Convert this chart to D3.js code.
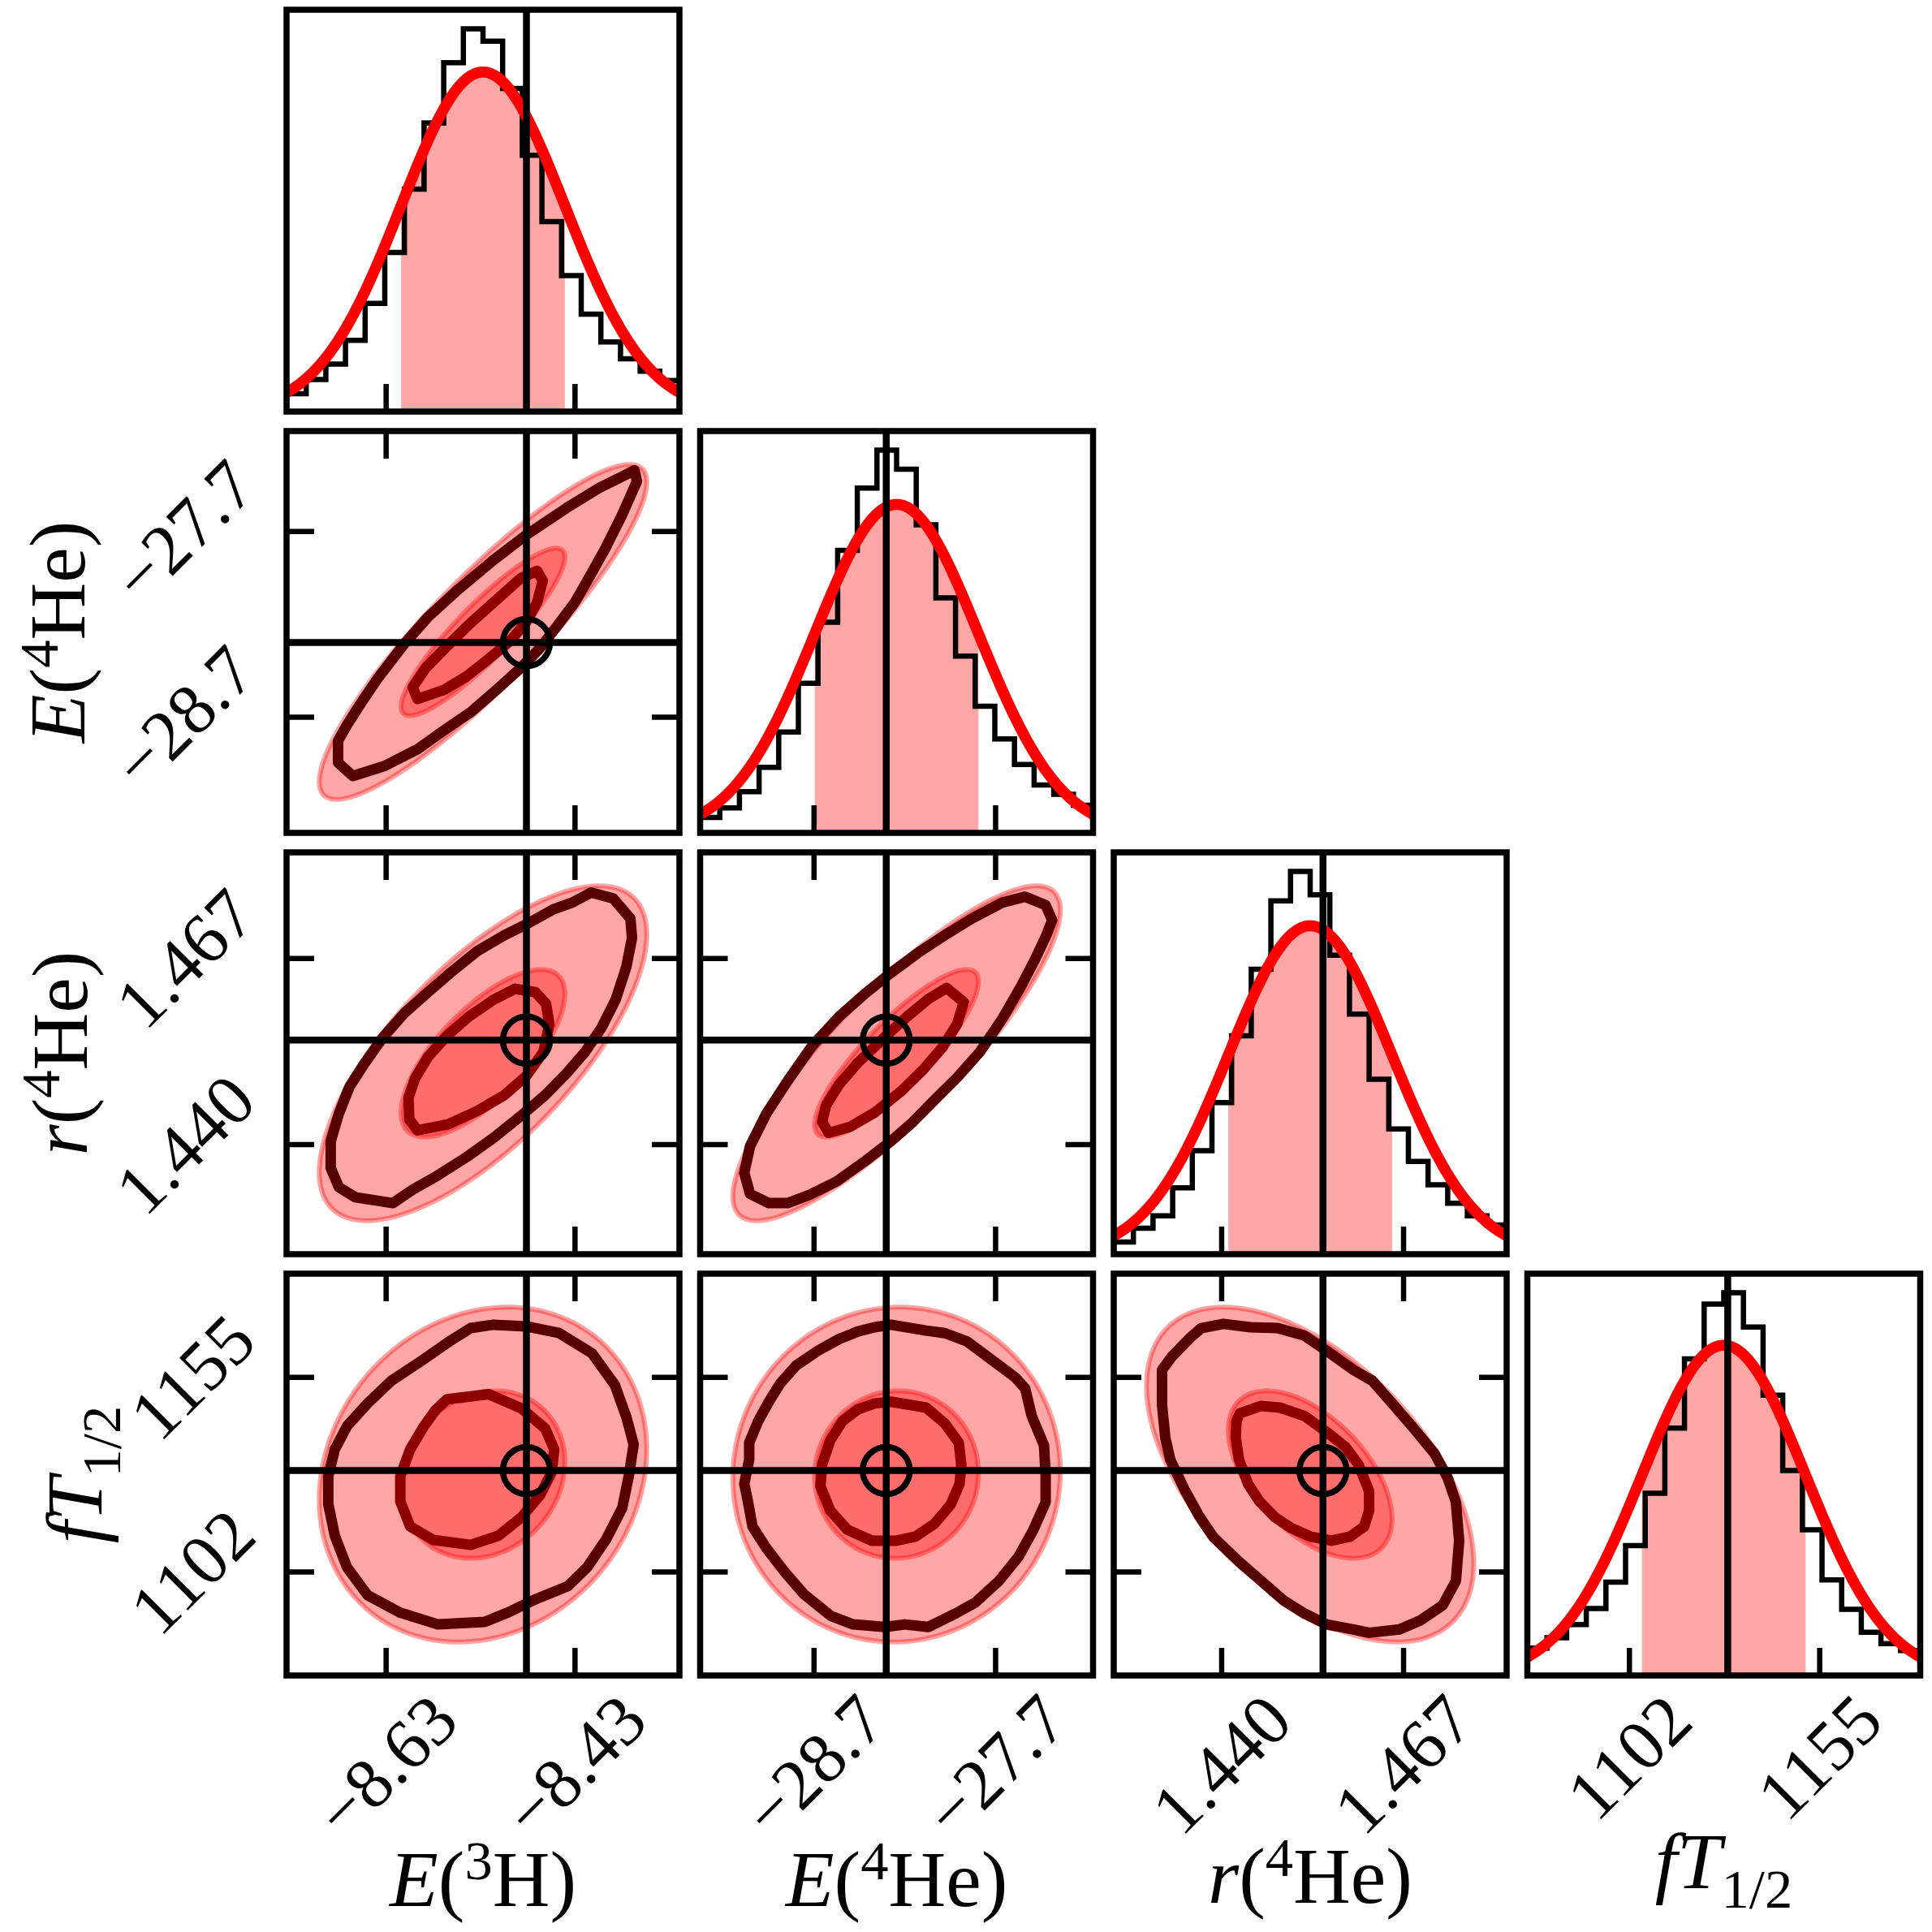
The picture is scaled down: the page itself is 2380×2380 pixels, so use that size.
<!DOCTYPE html>
<html>
<head>
<meta charset="utf-8">
<script src="https://cdn.jsdelivr.net/npm/d3@7/dist/d3.min.js"></script>
<style>
  body { margin: 0; background: #fff; }
  svg { display: block; }
  text { font-family: "Liberation Serif", "DejaVu Serif", serif; fill: #000; }
</style>
</head>
<body>
<script>

// parameters, in corner order: E(3H), E(4He), r(4He), fT1/2
var axisLimits = [[-8.735, -8.319], [-29.325, -27.161], [1.42404, 1.48236], [1073.68, 1183.12]];
var truths = [-8.481, -28.30, 1.4551, 1129.5];
var means = [-8.527, -28.243, 1.4532, 1128.4];
var sigmas = [0.0867, 0.451, 0.01215, 22.8];
var tickValues = [[-8.63, -8.43], [-28.7, -27.7], [1.440, 1.467], [1102, 1155]];
var tickLabels = [["\u22128.63", "\u22128.43"], ["\u221228.7", "\u221227.7"], ["1.440", "1.467"], ["1102", "1155"]];

// histogram heights, 20 bins over each axis range (relative counts)
var histE3H  = [58, 104, 154, 231, 351, 516, 721, 936, 1131, 1241, 1201, 1048, 831, 616, 441, 316, 226, 171, 131, 101];
var histE4He = [57, 92, 152, 242, 372, 552, 777, 1042, 1272, 1412, 1342, 1137, 867, 652, 467, 347, 252, 177, 142, 102];
var histR4He = [39, 84, 124, 214, 334, 489, 704, 919, 1139, 1234, 1159, 964, 774, 564, 404, 299, 224, 164, 124, 94];
var histFT   = [60, 83, 112, 147, 205, 285, 400, 543, 695, 815, 840, 765, 615, 450, 320, 210, 145, 95, 70, 55];
// height of the gaussian fit at its mean, same units as the histograms
var fitPeak = [1101, 1212, 1059, 725];

// 2D panels [row, col] and gaussian correlation
var pairs = [[1, 0], [2, 0], [2, 1], [3, 0], [3, 1], [3, 2]];
var correlations = [0.895, 0.71, 0.855, 0.15, 0.02, -0.53];

// sample contours, vertices as standard scores (value - mean) / sigma
var c10Outer = [[1.85,1.93],[1.42,1.72],[1.02,1.48],[0.53,1.16],[0.13,0.86],[-0.30,0.51],[-0.67,0.18],[-0.96,-0.14],[-1.29,-0.56],[-1.49,-0.85],[-1.66,-1.11],[-1.77,-1.30],[-1.77,-1.56],[-1.59,-1.72],[-1.20,-1.60],[-0.80,-1.40],[-0.47,-1.17],[-0.14,-0.95],[0.20,-0.66],[0.46,-0.43],[0.69,-0.20],[0.92,0.09],[1.12,0.35],[1.29,0.64],[1.49,0.99],[1.69,1.38],[1.88,1.80]];
var c10Inner = [[0.66,0.73],[0.73,0.61],[0.66,0.35],[0.53,0.12],[0.33,-0.11],[0.06,-0.33],[-0.20,-0.53],[-0.47,-0.69],[-0.80,-0.80],[-0.86,-0.66],[-0.70,-0.43],[-0.47,-0.20],[-0.17,0.09],[0.16,0.38],[0.46,0.64]];
var c20Outer = [[1.32,1.92],[1.59,1.85],[1.80,1.61],[1.82,1.38],[1.75,1.03],[1.62,0.64],[1.45,0.31],[1.25,0.02],[1.02,-0.24],[0.76,-0.50],[0.46,-0.75],[0.13,-1.01],[-0.20,-1.24],[-0.57,-1.47],[-0.86,-1.63],[-1.10,-1.79],[-1.56,-1.72],[-1.76,-1.60],[-1.86,-1.37],[-1.86,-1.05],[-1.76,-0.72],[-1.63,-0.40],[-1.46,-0.14],[-1.23,0.18],[-0.96,0.48],[-0.67,0.73],[-0.40,0.96],[-0.07,1.22],[0.26,1.41],[0.53,1.54],[0.86,1.72],[1.09,1.80]];
var c20Inner = [[0.39,0.77],[0.64,0.73],[0.77,0.59],[0.81,0.35],[0.74,0.02],[0.53,-0.27],[0.26,-0.50],[-0.07,-0.69],[-0.43,-0.85],[-0.80,-0.92],[-0.90,-0.79],[-0.91,-0.53],[-0.83,-0.30],[-0.67,-0.04],[-0.43,0.22],[-0.17,0.44],[0.13,0.64]];
var c21Outer = [[1.57,1.87],[1.29,1.80],[0.92,1.61],[0.59,1.41],[0.29,1.22],[-0.07,0.96],[-0.40,0.70],[-0.70,0.44],[-1.03,0.09],[-1.33,-0.33],[-1.59,-0.72],[-1.79,-1.11],[-1.86,-1.43],[-1.79,-1.68],[-1.56,-1.79],[-1.33,-1.79],[-1.06,-1.69],[-0.73,-1.53],[-0.40,-1.30],[-0.07,-1.05],[0.20,-0.82],[0.46,-0.56],[0.73,-0.30],[1.02,0.02],[1.29,0.41],[1.52,0.80],[1.69,1.12],[1.83,1.41],[1.90,1.59],[1.82,1.77]];
var c21Inner = [[0.61,0.78],[0.82,0.61],[0.74,0.35],[0.56,0.07],[0.33,-0.19],[0.06,-0.45],[-0.27,-0.71],[-0.57,-0.88],[-0.83,-0.95],[-0.91,-0.82],[-0.86,-0.62],[-0.70,-0.37],[-0.47,-0.11],[-0.17,0.17],[0.13,0.44],[0.39,0.65]];
var c30Outer = [[0.13,1.79],[0.53,1.77],[0.93,1.69],[1.33,1.45],[1.61,1.07],[1.75,0.69],[1.84,0.36],[1.78,-0.02],[1.70,-0.40],[1.50,-0.78],[1.27,-1.11],[1.04,-1.33],[0.64,-1.49],[0.30,-1.65],[0.02,-1.76],[-0.55,-1.79],[-1.01,-1.65],[-1.41,-1.44],[-1.66,-1.11],[-1.81,-0.73],[-1.89,-0.35],[-1.89,-0.02],[-1.81,0.30],[-1.66,0.58],[-1.41,0.85],[-1.12,1.12],[-0.78,1.34],[-0.38,1.61],[-0.15,1.75]];
var c30Inner = [[-0.44,0.90],[0.07,0.96],[0.47,0.79],[0.76,0.55],[0.87,0.30],[0.84,0.03],[0.70,-0.24],[0.47,-0.51],[0.19,-0.73],[-0.15,-0.84],[-0.61,-0.78],[-0.89,-0.62],[-1.01,-0.32],[-1.01,-0.02],[-0.89,0.30],[-0.72,0.58],[-0.58,0.77]];
var c31Outer = [[-0.07,1.79],[0.36,1.72],[0.59,1.69],[0.86,1.59],[1.15,1.38],[1.45,1.16],[1.57,1.03],[1.65,0.70],[1.80,0.35],[1.82,0.00],[1.82,-0.33],[1.67,-0.66],[1.49,-0.98],[1.25,-1.27],[0.96,-1.53],[0.72,-1.66],[0.39,-1.82],[0.10,-1.79],[-0.14,-1.82],[-0.53,-1.79],[-0.80,-1.69],[-1.13,-1.43],[-1.36,-1.17],[-1.59,-0.88],[-1.76,-0.62],[-1.82,-0.30],[-1.86,-0.11],[-1.80,0.18],[-1.80,0.38],[-1.69,0.64],[-1.56,0.87],[-1.42,1.09],[-1.23,1.30],[-0.96,1.48],[-0.70,1.62],[-0.47,1.71],[-0.27,1.76]];
var c31Inner = [[-0.07,0.87],[0.36,0.80],[0.59,0.61],[0.76,0.38],[0.79,0.12],[0.77,-0.11],[0.66,-0.36],[0.46,-0.59],[0.23,-0.74],[0.00,-0.79],[-0.30,-0.79],[-0.60,-0.66],[-0.81,-0.43],[-0.93,-0.14],[-0.91,0.12],[-0.81,0.41],[-0.66,0.64],[-0.47,0.78],[-0.27,0.85]];
var c32Outer = [[-1.33,1.75],[-1.06,1.80],[-0.73,1.76],[-0.40,1.75],[-0.07,1.66],[0.20,1.48],[0.53,1.25],[0.76,1.12],[1.02,0.83],[1.25,0.57],[1.52,0.25],[1.68,-0.04],[1.78,-0.33],[1.82,-0.79],[1.78,-1.27],[1.62,-1.56],[1.35,-1.74],[1.09,-1.85],[0.72,-1.89],[0.53,-1.85],[0.20,-1.79],[-0.07,-1.66],[-0.33,-1.50],[-0.60,-1.27],[-0.86,-1.05],[-1.18,-0.75],[-1.36,-0.49],[-1.54,-0.17],[-1.71,0.18],[-1.77,0.44],[-1.81,0.83],[-1.81,1.25],[-1.69,1.41],[-1.46,1.64]];
var c32Inner = [[-0.86,0.73],[-0.60,0.82],[-0.37,0.80],[-0.07,0.70],[0.20,0.51],[0.43,0.33],[0.59,0.12],[0.72,-0.20],[0.72,-0.43],[0.66,-0.62],[0.49,-0.74],[0.26,-0.79],[0.00,-0.74],[-0.23,-0.64],[-0.43,-0.51],[-0.62,-0.32],[-0.76,-0.11],[-0.87,0.18],[-0.91,0.44],[-0.90,0.64]];

var outerContours = [c10Outer, c20Outer, c21Outer, c30Outer, c31Outer, c32Outer];
var innerContours = [c10Inner, c20Inner, c21Inner, c30Inner, c31Inner, c32Inner];

var axisLabels = [
    [["E", "i"], ["(", ""], ["3", "sup"], ["H)", ""]],
    [["E", "i"], ["(", ""], ["4", "sup"], ["He)", ""]],
    [["r", "i"], ["(", ""], ["4", "sup"], ["He)", ""]],
    [["fT", "i"], ["1/2", "sub"]]
];

var W = 2380, H = 2380;
var left0 = 353, stepX = 509.5, panelW = 484;
var top0 = 12, stepY = 519, panelH = 495;
var tickFs = 88, labelFs = 98;
var frameW = 7.5, tickLen = 34, tickW = 6.5;
var shade = "rgba(255,0,0,0.35)";

var histograms = [histE3H, histE4He, histR4He, histFT];

var svg = d3.select("body").append("svg").attr("width", W).attr("height", H);
svg.append("rect").attr("width", W).attr("height", H).attr("fill", "#fff");
var defs = svg.append("defs");

function colLeft(c) { return left0 + c * stepX; }
function rowTop(r) { return top0 + r * stepY; }

function xScale(c) {
    return d3.scaleLinear().domain(axisLimits[c]).range([colLeft(c), colLeft(c) + panelW]);
}
function yScale(r) {
    return d3.scaleLinear().domain(axisLimits[r]).range([rowTop(r) + panelH, rowTop(r)]);
}

function gauss(c, v) {
    var z = (v - means[c]) / sigmas[c];
    return fitPeak[c] * Math.exp(-0.5 * z * z);
}

function panelGroup(r, c) {
    var id = "clip" + r + c;
    defs.append("clipPath").attr("id", id).append("rect")
        .attr("x", colLeft(c)).attr("y", rowTop(r)).attr("width", panelW).attr("height", panelH);
    return svg.append("g").attr("clip-path", "url(#" + id + ")");
}

function frame(r, c, x, y, allSides) {
    var g = svg.append("g");
    var bottom = rowTop(r) + panelH, top = rowTop(r);
    var right = colLeft(c) + panelW, left = colLeft(c);

    var axes = [g.append("g").attr("transform", "translate(0," + bottom + ")")
                  .call(d3.axisBottom(x).tickValues(tickValues[c]).tickSize(-tickLen).tickFormat(""))];
    if (allSides) {
        axes.push(g.append("g").attr("transform", "translate(0," + top + ")")
            .call(d3.axisTop(x).tickValues(tickValues[c]).tickSize(-tickLen).tickFormat("")));
        axes.push(g.append("g").attr("transform", "translate(" + left + ",0)")
            .call(d3.axisLeft(y).tickValues(tickValues[r]).tickSize(-tickLen).tickFormat("")));
        axes.push(g.append("g").attr("transform", "translate(" + right + ",0)")
            .call(d3.axisRight(y).tickValues(tickValues[r]).tickSize(-tickLen).tickFormat("")));
    }
    axes.forEach(function (a) {
        a.select(".domain").remove();
        a.selectAll("line").attr("stroke", "#000").attr("stroke-width", tickW);
    });

    g.append("rect").attr("x", left).attr("y", top).attr("width", panelW).attr("height", panelH)
        .attr("fill", "none").attr("stroke", "#000").attr("stroke-width", frameW);
}

// diagonal: histogram + gaussian fit
for (var c = 0; c < 4; c++) {
    var x = xScale(c);
    var hist = histograms[c];
    var y = d3.scaleLinear().domain([0, 1.05 * d3.max(hist)]).range([rowTop(c) + panelH, rowTop(c)]);
    var g = panelGroup(c, c);
    var lo = axisLimits[c][0], hi = axisLimits[c][1];

    var band = d3.range(0, 201).map(function (i) { return means[c] - sigmas[c] + i * 2 * sigmas[c] / 200; });
    g.append("path").datum(band)
        .attr("d", d3.area().x(function (d) { return x(d); }).y0(y(0)).y1(function (d) { return y(gauss(c, d)); }))
        .attr("fill", shade);

    var edges = d3.range(21).map(function (i) { return lo + i * (hi - lo) / 20; });
    var steps = [[edges[0], 0]];
    hist.forEach(function (h, i) { steps.push([edges[i], h]); });
    steps.push([edges[20], hist[19]]);
    steps.push([edges[20], 0]);
    g.append("path").datum(steps)
        .attr("d", d3.line().x(function (d) { return x(d[0]); }).y(function (d) { return y(d[1]); }).curve(d3.curveStepAfter))
        .attr("fill", "none").attr("stroke", "#000").attr("stroke-width", 6.5);

    var grid = d3.range(0, 401).map(function (i) { return lo + i * (hi - lo) / 400; });
    g.append("path").datum(grid)
        .attr("d", d3.line().x(function (d) { return x(d); }).y(function (d) { return y(gauss(c, d)); }))
        .attr("fill", "none").attr("stroke", "#ff0000").attr("stroke-width", 13.5);

    g.append("line").attr("x1", x(truths[c])).attr("x2", x(truths[c]))
        .attr("y1", rowTop(c)).attr("y2", rowTop(c) + panelH)
        .attr("stroke", "#000").attr("stroke-width", 8.5);

    frame(c, c, x, y, false);
}

// lower triangle: gaussian ellipses + sample contours
pairs.forEach(function (p, k) {
    var r = p[0], c = p[1];
    var x = xScale(c), y = yScale(r);
    var g = panelGroup(r, c);
    var rho = correlations[k];
    var toXY = d3.line()
        .x(function (d) { return x(means[c] + d[0] * sigmas[c]); })
        .y(function (d) { return y(means[r] + d[1] * sigmas[r]); })
        .curve(d3.curveLinearClosed);

    [2, 1].forEach(function (level) {
        var ring = d3.range(0, 180).map(function (i) {
            var t = i / 180 * 2 * Math.PI;
            return [level * Math.cos(t), level * (rho * Math.cos(t) + Math.sqrt(1 - rho * rho) * Math.sin(t))];
        });
        g.append("path").attr("d", toXY(ring))
            .attr("fill", shade).attr("stroke", "rgba(255,0,0,0.36)").attr("stroke-width", 6);
    });

    g.append("path").attr("d", toXY(outerContours[k]))
        .attr("fill", "none").attr("stroke", "#560000").attr("stroke-width", 13).attr("stroke-linejoin", "round");
    g.append("path").attr("d", toXY(innerContours[k]))
        .attr("fill", "none").attr("stroke", "#8e0000").attr("stroke-width", 13).attr("stroke-linejoin", "round");

    var tx = x(truths[c]), ty = y(truths[r]);
    g.append("line").attr("x1", tx).attr("x2", tx).attr("y1", rowTop(r)).attr("y2", rowTop(r) + panelH)
        .attr("stroke", "#000").attr("stroke-width", 8.5);
    g.append("line").attr("x1", colLeft(c)).attr("x2", colLeft(c) + panelW).attr("y1", ty).attr("y2", ty)
        .attr("stroke", "#000").attr("stroke-width", 8.5);
    g.append("circle").attr("cx", tx).attr("cy", ty).attr("r", 29)
        .attr("fill", "none").attr("stroke", "#000").attr("stroke-width", 7.5);

    frame(r, c, x, y, true);
});

// rotated tick labels, returns the extent of their ink boxes
function tickLabel(px, py, str, onX) {
    var t = svg.append("text").attr("font-size", tickFs).attr("text-anchor", "middle")
        .attr("dy", "0.34em").text(str);
    var half = (t.node().getComputedTextLength() + 0.68 * tickFs) / (2 * Math.SQRT2);
    var cx = onX ? px : colLeft(0) - 34 - half;
    var cy = onX ? rowTop(3) + panelH + 18 + half : py;
    t.attr("transform", "translate(" + cx + "," + cy + ") rotate(-45)");
    return onX ? cy + half : cx - half;
}

function writeLabel(text, parts) {
    var shift = 0;
    parts.forEach(function (p) {
        var target = p[1] == "sup" ? -0.34 : (p[1] == "sub" ? 0.24 : 0);
        var ts = text.append("tspan").text(p[0]);
        if (target != shift) ts.attr("dy", (target - shift) * labelFs);
        shift = target;
        if (p[1] == "i") ts.attr("font-style", "italic");
        if (p[1] == "sup" || p[1] == "sub") ts.attr("font-size", labelFs * 0.7);
    });
}

for (var c = 0; c < 4; c++) {
    var x = xScale(c);
    var bottom = 0;
    tickValues[c].forEach(function (v, i) {
        bottom = Math.max(bottom, tickLabel(x(v), 0, tickLabels[c][i], true));
    });
    var t = svg.append("text").attr("font-size", labelFs).attr("text-anchor", "middle")
        .attr("x", colLeft(c) + panelW / 2).attr("y", Math.min(bottom + 80, 2348));
    writeLabel(t, axisLabels[c]);
}

for (var r = 1; r < 4; r++) {
    var y = yScale(r);
    var leftMost = W;
    tickValues[r].forEach(function (v, i) {
        leftMost = Math.min(leftMost, tickLabel(0, y(v), tickLabels[r][i], false));
    });
    var t = svg.append("text").attr("font-size", labelFs).attr("text-anchor", "middle")
        .attr("transform", "translate(" + Math.max(leftMost - 30, 104) + "," + (rowTop(r) + panelH / 2) + ") rotate(-90)");
    writeLabel(t, axisLabels[r]);
}

</script>
</body>
</html>
